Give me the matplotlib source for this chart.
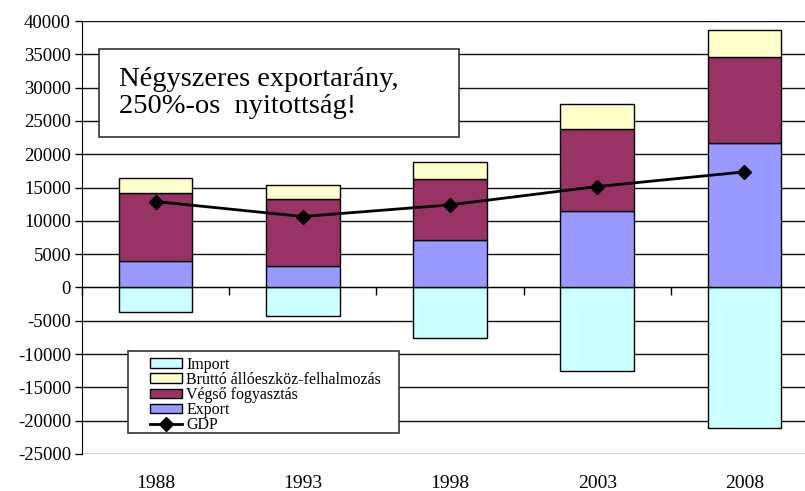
import numpy as np
import matplotlib
matplotlib.use('Agg')
import matplotlib.pyplot as plt

# Data
years = ['1988', '1993', '1998', '2003', '2008']
import_vals = [-3750, -4250, -7650, -12600, -21150]
export_vals = [4000, 3250, 7050, 11550, 21650]
vegso_vals = [10200, 10000, 9200, 12200, 13000]
brutto_vals = [2200, 2100, 2600, 3800, 4050]
gdp_vals = [12900, 10650, 12400, 15150, 17350]

plt.rcParams['font.family'] = ['Liberation Serif', 'DejaVu Serif']
plt.rcParams['axes.unicode_minus'] = False

fig = plt.figure(figsize=(8.05, 4.91), dpi=100)
ax = fig.add_axes([82/805, 37/491, 736/805, 433/491])

x = np.arange(len(years))
w = 0.5
ec = dict(edgecolor='black', linewidth=1)

export_arr = np.array(export_vals)
vegso_arr = np.array(vegso_vals)

b_imp = ax.bar(x, import_vals, w, color='#CCFFFF', label='Import', zorder=3, **ec)
b_exp = ax.bar(x, export_vals, w, color='#9999FF', label='Export', zorder=3, **ec)
b_veg = ax.bar(x, vegso_vals, w, bottom=export_arr, color='#993366',
               label='Végső fogyasztás', zorder=3, **ec)
b_bru = ax.bar(x, brutto_vals, w, bottom=export_arr + vegso_arr, color='#FFFFCC',
               label='Bruttó állóeszköz-felhalmozás', zorder=3, **ec)
l_gdp, = ax.plot(x, gdp_vals, color='black', lw=2, marker='D', ms=7, label='GDP', zorder=4)

ax.set_xlim(-0.5, 4.5)
ax.set_ylim(-25000, 40000)
ax.set_yticks(np.arange(-25000, 40001, 5000))
ax.yaxis.grid(True, color='#111111', lw=1)
ax.set_axisbelow(True)
ax.tick_params(axis='y', direction='out', length=5, width=1, labelsize=13.5, pad=3)

# category axis sits on zero, labels at the bottom
ax.spines['top'].set_visible(False)
ax.spines['right'].set_visible(False)
ax.spines['bottom'].set_position(('data', 0))
ax.spines['bottom'].set_zorder(5)
ax.set_xticks(np.arange(-0.5, 4.6, 1))
ax.set_xticklabels([])
ax.tick_params(axis='x', direction='out', length=6, width=1)
for i, yr in enumerate(years):
    ax.text(i, -0.069, yr, transform=ax.get_xaxis_transform(),
            ha='center', va='center', fontsize=14)

# text box
fig.text(119/805, 1 - 93/491, 'Négyszeres exportarány,\n250%-os  nyitottság!',
         fontsize=20.5, ha='left', va='center', linespacing=1.1)
box = plt.Rectangle((99/805, 1 - 137/491), 360/805, 88/491, transform=fig.transFigure,
                    facecolor='white', edgecolor='#333333', lw=1.2, zorder=2)
fig.patches.append(box)

# legend frame drawn by hand, legend itself without frame
leg_box = plt.Rectangle((128/805, 1 - 433/491), 271/805, 82/491, transform=fig.transFigure,
                        facecolor='white', edgecolor='#333333', lw=1.2, zorder=5.5,
                        clip_on=False)
ax.add_patch(leg_box)
leg = ax.legend([b_imp, b_bru, b_veg, b_exp, l_gdp],
                ['Import', 'Bruttó állóeszköz-felhalmozás', 'Végső fogyasztás', 'Export', 'GDP'],
                loc='upper left', bbox_to_anchor=(148/805, 1 - 355/491),
                bbox_transform=fig.transFigure, fontsize=11.5, frameon=False,
                labelspacing=-0.05, handlelength=2.0, handleheight=0.55,
                handletextpad=0.3, borderpad=0.1, borderaxespad=0)
leg.set_zorder(6)

fig.savefig('out.png', dpi=100)
